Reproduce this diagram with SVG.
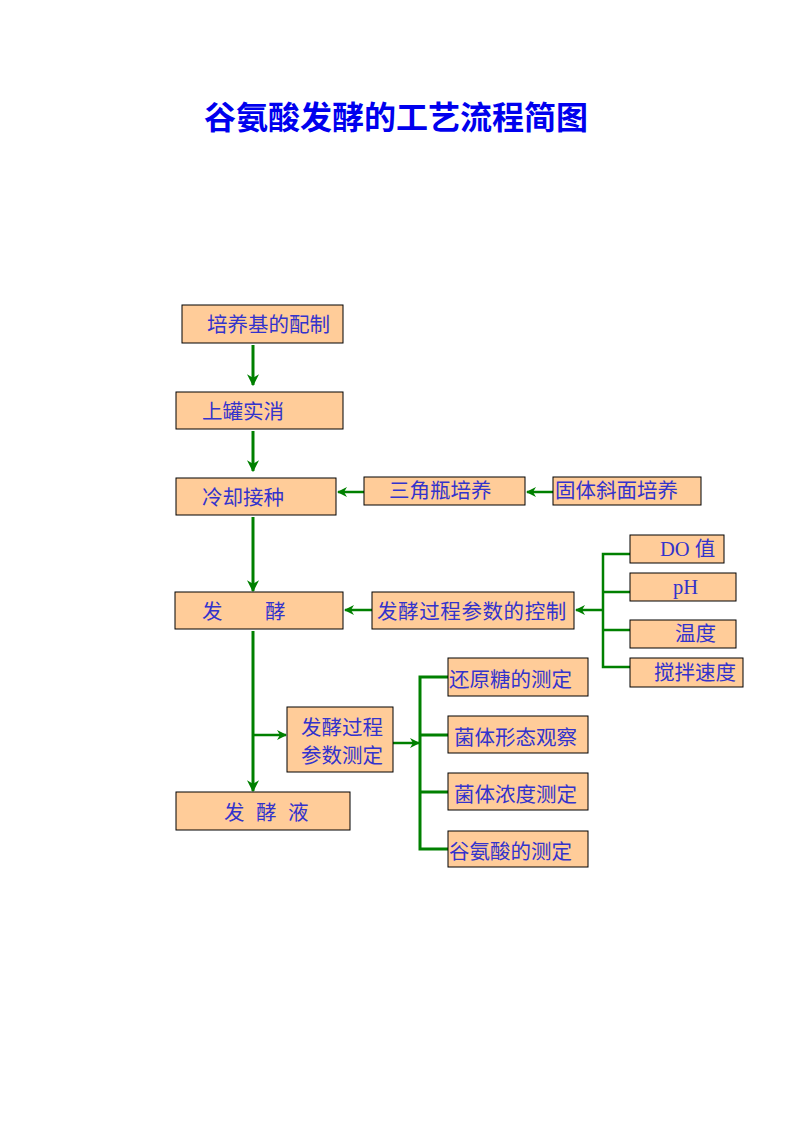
<svg xmlns="http://www.w3.org/2000/svg" width="793" height="1122" viewBox="0 0 793 1122">
<style>
.b{fill:#FFCC99;stroke:#000;stroke-width:1}
.t{font-family:"Liberation Serif","Noto Sans CJK SC",serif;font-size:20.5px;fill:#3333CC}
.c{stroke:#008000;stroke-width:3;fill:none}
.h{stroke:#008000;stroke-width:2.5;fill:none}
</style>
<defs>
<marker id="a" viewBox="0 0 10 10" refX="9" refY="5" markerWidth="4" markerHeight="4" markerUnits="strokeWidth" orient="auto">
<path d="M0,0 L10,5 L0,10 L3,5 Z" fill="#008000"/>
</marker>
</defs>
<rect width="793" height="1122" fill="#fff"/>
<text x="396" y="129" text-anchor="middle" style="font-family:'Liberation Sans','Noto Sans CJK SC',sans-serif;font-size:32px;font-weight:bold;fill:#0000EE">谷氨酸发酵的工艺流程简图</text>
<g id="connectors">
<line class="c" x1="253" y1="345" x2="253" y2="385" marker-end="url(#a)"/>
<line class="c" x1="253" y1="431" x2="253" y2="471" marker-end="url(#a)"/>
<line class="c" x1="253" y1="517" x2="253" y2="591" marker-end="url(#a)"/>
<line class="c" x1="253" y1="631" x2="253" y2="791" marker-end="url(#a)"/>
<line class="h" x1="553" y1="492" x2="527" y2="492" marker-end="url(#a)"/>
<line class="h" x1="364" y1="492" x2="338" y2="492" marker-end="url(#a)"/>
<line class="h" x1="372" y1="610" x2="345" y2="610" marker-end="url(#a)"/>
<line class="h" x1="603" y1="610" x2="576" y2="610" marker-end="url(#a)"/>
<path class="h" d="M630,554 H603 V667 H630 M603,592 H630 M603,630 H630"/>
<line class="h" x1="253" y1="735" x2="286" y2="735" marker-end="url(#a)"/>
<line class="h" x1="393" y1="743" x2="419" y2="743" marker-end="url(#a)"/>
<path class="c" d="M448,677 H420 V849 H448 M420,735 H448 M420,792 H448"/>
</g>
<g id="n1"><rect class="b" x="182" y="305" width="161" height="38"/><text class="t" x="207" y="332">培养基的配制</text></g>
<g id="n2"><rect class="b" x="176" y="392" width="167" height="37"/><text class="t" x="202" y="419">上罐实消</text></g>
<g id="n3"><rect class="b" x="176" y="478" width="160" height="37"/><text class="t" x="202" y="505">冷却接种</text></g>
<g id="n4"><rect class="b" x="364" y="477" width="161" height="28"/><text class="t" x="389" y="498">三角瓶培养</text></g>
<g id="n5"><rect class="b" x="553" y="477" width="148" height="28"/><text class="t" x="555" y="498">固体斜面培养</text></g>
<g id="n6"><rect class="b" x="175" y="592" width="168" height="37"/><text class="t" x="202" y="619">发</text><text class="t" x="265" y="619">酵</text></g>
<g id="n7"><rect class="b" x="372" y="592" width="202" height="37"/><text class="t" x="377" y="619" letter-spacing="0.6">发酵过程参数的控制</text></g>
<g id="n8"><rect class="b" x="630" y="535" width="94" height="28"/><text class="t" x="660" y="556">DO 值</text></g>
<g id="n9"><rect class="b" x="630" y="573" width="106" height="28"/><text class="t" x="673" y="594">pH</text></g>
<g id="n10"><rect class="b" x="630" y="620" width="106" height="28"/><text class="t" x="675" y="641">温度</text></g>
<g id="n11"><rect class="b" x="630" y="658" width="113" height="29"/><text class="t" x="654" y="680">搅拌速度</text></g>
<g id="n12"><rect class="b" x="287" y="707" width="106" height="65"/><text class="t" x="301" y="735">发酵过程</text><text class="t" x="301" y="763">参数测定</text></g>
<g id="n13"><rect class="b" x="176" y="792" width="174" height="38"/><text class="t" x="224" y="820" letter-spacing="11.5">发酵液</text></g>
<g id="n14"><rect class="b" x="448" y="658" width="140" height="38"/><text class="t" x="449" y="687">还原糖的测定</text></g>
<g id="n15"><rect class="b" x="448" y="716" width="140" height="37"/><text class="t" x="454" y="745">菌体形态观察</text></g>
<g id="n16"><rect class="b" x="448" y="773" width="140" height="37"/><text class="t" x="454" y="802">菌体浓度测定</text></g>
<g id="n17"><rect class="b" x="448" y="831" width="140" height="36"/><text class="t" x="449" y="859">谷氨酸的测定</text></g>
</svg>
